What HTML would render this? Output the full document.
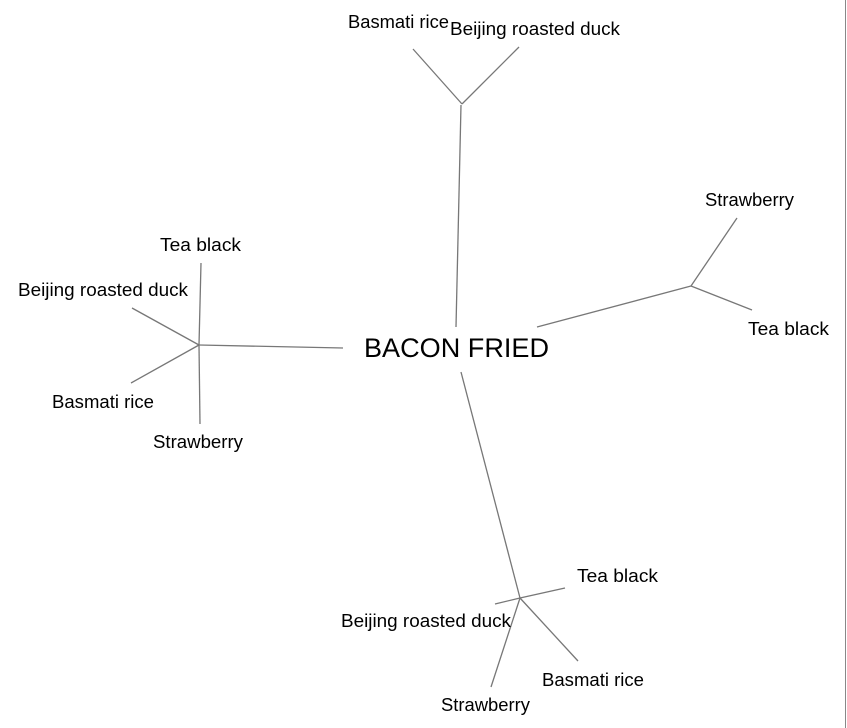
<!DOCTYPE html>
<html><head><style>
html,body{margin:0;padding:0;background:#fff;}
svg{display:block;}
text{font-family:"Liberation Sans",Arial,sans-serif;font-size:18px;fill:#000;}
</style></head><body>
<svg width="847" height="728" viewBox="0 0 847 728">
<rect width="847" height="728" fill="#fff"/>
<line x1="845.5" y1="0" x2="845.5" y2="728" stroke="#888" stroke-width="1"/>
<g stroke="#777" stroke-width="1.3" fill="none">
<line x1="461" y1="105" x2="456" y2="327"/>
<line x1="462" y1="104" x2="413" y2="49"/>
<line x1="462" y1="104" x2="519" y2="47"/>
<line x1="537" y1="327" x2="691" y2="286"/>
<line x1="691" y1="286" x2="737" y2="218"/>
<line x1="691" y1="286" x2="752" y2="310"/>
<line x1="343" y1="348" x2="199" y2="345"/>
<line x1="199" y1="345" x2="201" y2="263"/>
<line x1="199" y1="345" x2="132" y2="308"/>
<line x1="199" y1="345" x2="131" y2="383"/>
<line x1="199" y1="345" x2="200" y2="424"/>
<line x1="461" y1="372" x2="520" y2="598"/>
<line x1="520" y1="598" x2="565" y2="588"/>
<line x1="520" y1="598" x2="495" y2="604"/>
<line x1="520" y1="598" x2="578" y2="661"/>
<line x1="520" y1="598" x2="491" y2="687"/>
</g>
<text x="364" y="357" style="font-size:27px" textLength="185" lengthAdjust="spacingAndGlyphs">BACON FRIED</text>
<text x="348" y="28" textLength="101" lengthAdjust="spacingAndGlyphs">Basmati rice</text>
<text x="450" y="35" textLength="170" lengthAdjust="spacingAndGlyphs">Beijing roasted duck</text>
<text x="705" y="206" textLength="89" lengthAdjust="spacingAndGlyphs">Strawberry</text>
<text x="748" y="335" textLength="81" lengthAdjust="spacingAndGlyphs">Tea black</text>
<text x="160" y="251" textLength="81" lengthAdjust="spacingAndGlyphs">Tea black</text>
<text x="18" y="296" textLength="170" lengthAdjust="spacingAndGlyphs">Beijing roasted duck</text>
<text x="52" y="408" textLength="102" lengthAdjust="spacingAndGlyphs">Basmati rice</text>
<text x="153" y="448" textLength="90" lengthAdjust="spacingAndGlyphs">Strawberry</text>
<text x="577" y="582" textLength="81" lengthAdjust="spacingAndGlyphs">Tea black</text>
<text x="341" y="627" textLength="170" lengthAdjust="spacingAndGlyphs">Beijing roasted duck</text>
<text x="542" y="686" textLength="102" lengthAdjust="spacingAndGlyphs">Basmati rice</text>
<text x="441" y="711" textLength="89" lengthAdjust="spacingAndGlyphs">Strawberry</text>
</svg>
</body></html>
